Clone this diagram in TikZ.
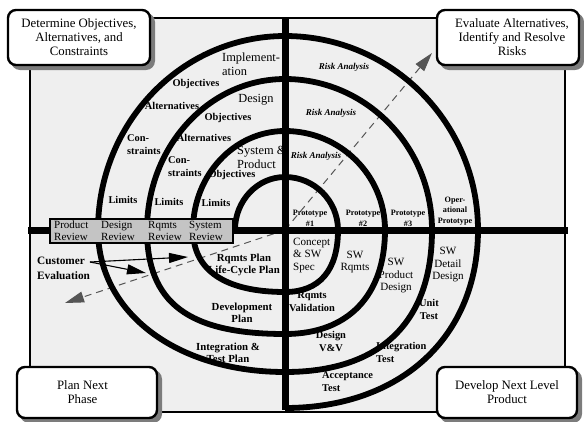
\documentclass[tikz,border=0pt]{standalone}
\usepackage{fontspec}
\setmainfont{Liberation Serif}
\usetikzlibrary{arrows.meta}

\definecolor{panel}{HTML}{EFEFEF}
\definecolor{reviewgray}{HTML}{C4C4C4}
\definecolor{shadowgray}{HTML}{7C7C7C}
\definecolor{dashgray}{HTML}{555555}

\begin{document}
\begin{tikzpicture}[x=1pt,y=1pt,
  spiral/.style={line width=5.8pt},
  axisline/.style={line width=7pt},
  cornerbox/.style={draw, line width=2.4pt, rounded corners=8pt, fill=white,
    align=center, inner sep=0pt, font=\fontsize{12.8}{14}\selectfont},
  boxshadow/.style={fill=shadowgray, rounded corners=9pt},
  reviewbox/.style={draw, line width=1.3pt, fill=reviewgray, inner sep=0pt,
    minimum width=183pt, minimum height=24pt},
  reviewtxt/.style={anchor=west, align=left, inner sep=0pt,
    font=\fontsize{11}{12}\selectfont},
  bigtxt/.style={inner sep=0pt, align=center, font=\fontsize{12.4}{14}\selectfont},
  medtxt/.style={inner sep=0pt, align=center, font=\fontsize{11.1}{12.5}\selectfont},
  boldtxt/.style={inner sep=0pt, align=center, font=\bfseries\fontsize{10.4}{13}\selectfont},
  plantxt/.style={boldtxt, font=\bfseries\fontsize{10.8}{12.5}\selectfont},
  tinytxt/.style={inner sep=0pt, align=center, font=\bfseries\fontsize{8.2}{10.5}\selectfont},
  risktxt/.style={inner sep=0pt, font=\bfseries\itshape\fontsize{9}{10}\selectfont},
  evalarrow/.style={line width=1.1pt, -{Triangle[length=19pt, width=10pt]}},
  cycledash/.style={line width=1pt, draw=dashgray, dash pattern=on 7pt off 5pt,
    -{Triangle[length=19pt, width=11pt]}}
]
\useasboundingbox (0,0) rectangle (584,-421);

% light panel behind the spiral
\draw[line width=1.2pt, fill=panel] (30,-18) rectangle (565,-412);

% cumulative-cost diagonal
\coordinate (hub) at (285,-230);
\coordinate (riskTip) at (432,-53);
\coordinate (evalTip) at (65,-303);
\draw[cycledash] (hub) -- (riskTip);
\draw[cycledash] (hub) -- (evalTip);

% the spiral: elliptic quarters above the axis, fuller curves below it
\draw[spiral] (235,-230)
  arc[start angle=180, end angle=90, x radius=50,  y radius=53]
  arc[start angle=90,  end angle=0,  x radius=53,  y radius=53]
  .. controls (338,-270.3) and (319.5,-292) .. (285,-292)
  .. controls (225.2,-292) and (193,-270.3) .. (193,-230)
  arc[start angle=180, end angle=90, x radius=92,  y radius=99]
  arc[start angle=90,  end angle=0,  x radius=100, y radius=99]
  .. controls (385,-295.5) and (348,-334) .. (285,-334)
  .. controls (188.4,-334) and (147,-302.8) .. (147,-230)
  arc[start angle=180, end angle=90, x radius=138, y radius=151]
  arc[start angle=90,  end angle=0,  x radius=147, y radius=151]
  .. controls (432,-322.3) and (380.6,-372) .. (285,-372)
  .. controls (176.5,-372) and (98,-312.4) .. (98,-230)
  arc[start angle=180, end angle=90, x radius=187, y radius=194]
  arc[start angle=90,  end angle=0,  x radius=193, y radius=194]
  .. controls (478,-336.8) and (400.8,-408) .. (285,-408);

% axes
\draw[axisline] (285,-18) -- (285,-410);
\draw[axisline] (28,-230) -- (568,-230);

% review strip
\node[reviewbox] (reviews) at (141.5,-231) {};
\node[reviewtxt] (prodrev) at (54,-230.5)  {Product\\Review};
\node[reviewtxt] (desrev)  at (101,-230.5) {Design\\Review};
\node[reviewtxt] (reqrev)  at (148,-230.5) {Rqmts\\Review};
\node[reviewtxt] (sysrev)  at (189,-230.5) {System\\Review};

% upper-left quadrant
\node[bigtxt, anchor=west, align=left] (impl) at (222,-64) {Implement-\\ation};
\node[boldtxt] (obj1) at (196,-84) {Objectives};
\node[boldtxt] (alt1) at (172,-106) {Alternatives};
\node[boldtxt, anchor=west, align=left] (con1) at (127,-145) {Con-\\straints};
\node[boldtxt] (lim1) at (123,-200) {Limits};
\node[bigtxt] (des) at (256,-100) {Design};
\node[boldtxt] (obj2) at (228,-118) {Objectives};
\node[boldtxt] (alt2) at (204,-138) {Alternatives};
\node[boldtxt, anchor=west, align=left] (con2) at (168,-167) {Con-\\straints};
\node[boldtxt] (lim2) at (169,-202) {Limits};
\node[bigtxt, anchor=west, align=left] (sysprod) at (237,-157.5) {System \&\\Product};
\node[boldtxt] (obj3) at (232,-175) {Objectives};
\node[boldtxt] (lim3) at (216,-203) {Limits};

% upper-right quadrant
\node[risktxt] (risk1) at (344,-67) {Risk Analysis};
\node[risktxt] (risk2) at (331,-113) {Risk Analysis};
\node[risktxt] (risk3) at (316,-156) {Risk Analysis};
\node[tinytxt] (proto1) at (310,-218.5) {Prototype\\\#1};
\node[tinytxt] (proto2) at (363,-218.5) {Prototype\\\#2};
\node[tinytxt] (proto3) at (408,-218.5) {Prototype\\\#3};
\node[tinytxt] (operproto) at (455,-211) {Oper-\\ational\\Prototype};

% lower-right quadrant
\node[medtxt, anchor=west, align=left] (concept) at (293,-255.5) {Concept\\\& SW\\Spec};
\node[medtxt] (swreq) at (355,-262) {SW\\Rqmts};
\node[medtxt] (swpd) at (396,-276) {SW\\Product\\Design};
\node[medtxt] (swdd) at (448,-265) {SW\\Detail\\Design};
\node[boldtxt] (unit) at (429,-309.5) {Unit\\Test};
\node[boldtxt] (rval) at (312,-302) {Rqmts\\Validation};
\node[boldtxt] (dvv) at (331,-341.5) {Design\\V\&V};
\node[boldtxt, anchor=west, align=left] (itest) at (376,-352) {Integration\\Test};
\node[boldtxt, anchor=west, align=left] (acc) at (322,-381.5) {Acceptance\\Test};

% lower-left quadrant
\node[boldtxt, anchor=west, align=left, font=\bfseries\fontsize{11.3}{15}\selectfont]
  (cust) at (37,-268.5) {Customer\\Evaluation};
\node[plantxt] (rplan) at (244,-265) {Rqmts Plan\\Life-Cycle Plan};
\node[plantxt] (dplan) at (242,-313) {Development\\Plan};
\node[plantxt] (itplan) at (228,-353) {Integration \&\\Test Plan};

% customer evaluation arrows
\coordinate (custOut) at (90,-262);
\coordinate (tipA) at (188,-257);
\coordinate (tipB) at (146,-273);
\draw[evalarrow] (custOut) -- (tipA);
\draw[evalarrow] (custOut) -- (tipB);

% quadrant headings, each with a flat offset shadow
\fill[boxshadow] (11,-13) rectangle (155,-70);
\fill[boxshadow] (440,-13) rectangle (584,-70);
\fill[boxshadow] (20,-370) rectangle (162,-423);
\fill[boxshadow] (440,-370) rectangle (582,-423);
\node[cornerbox, minimum width=142pt, minimum height=55pt] (objbox) at (79,-37.5)
  {Determine Objectives,\\Alternatives, and\\Constraints};
\node[cornerbox, minimum width=142pt, minimum height=55pt] (riskbox) at (508,-37.5)
  {\hspace*{8pt}Evaluate Alternatives,\\\hspace*{8pt}Identify and Resolve\\\hspace*{8pt}Risks};
\node[cornerbox, minimum width=140pt, minimum height=51pt] (planbox) at (87,-392.5)
  {Plan Next\hspace*{9pt}\\Phase\hspace*{9pt}};
\node[cornerbox, minimum width=140pt, minimum height=51pt] (devbox) at (507,-392.5)
  {Develop Next Level\\Product};
\end{tikzpicture}
\end{document}
